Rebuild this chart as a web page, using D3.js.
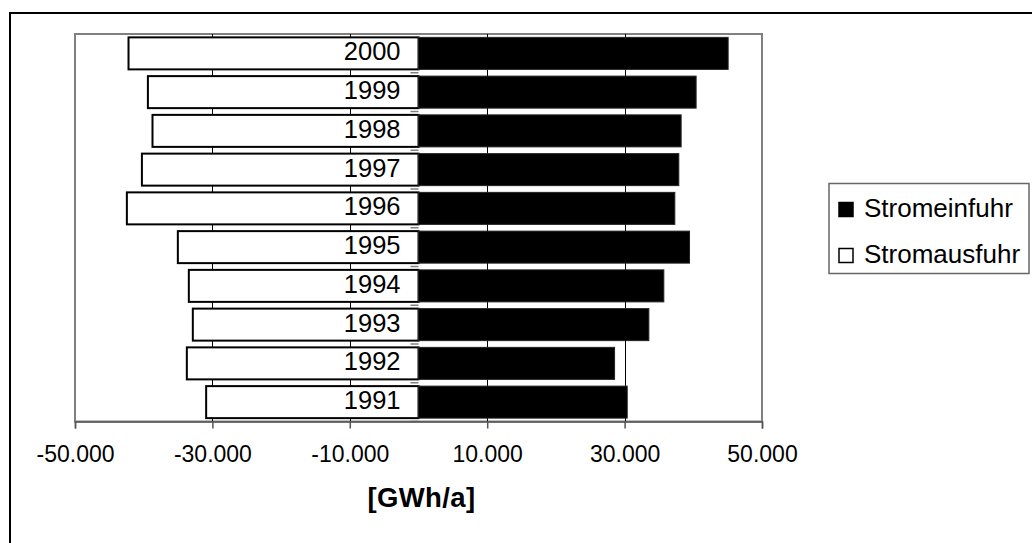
<!DOCTYPE html>
<html>
<head>
<meta charset="utf-8">
<script src="https://cdn.jsdelivr.net/npm/d3@7"></script>
<style>
  html, body { margin: 0; padding: 0; background: #fff; }
  svg { display: block; font-family: "Liberation Sans", Arial, sans-serif; }
</style>
</head>
<body>
<svg id="chart" width="1032" height="543"></svg>
<script>
// Electricity import / export per year, GWh/a
const years = ["2000", "1999", "1998", "1997", "1996", "1995", "1994", "1993", "1992", "1991"];
const stromeinfuhr = [45070, 40410, 38230, 37890, 37310, 39450, 35710, 33530, 28540, 30380];
const stromausfuhr = [-42210, -39390, -38720, -40260, -42450, -35030, -33430, -32850, -33720, -30910];
const xTicks = [-50000, -30000, -10000, 10000, 30000, 50000];
const gridTicks = [-30000, -10000, 10000, 30000];
const seriesNames = ["Stromeinfuhr", "Stromausfuhr"];

const svg = d3.select("#chart");
const plot = { left: 75, right: 762, top: 34, bottom: 421.5 };

// outer chart frame
svg.append("rect")
  .attr("x", 10).attr("y", 13)
  .attr("width", 1040).attr("height", 560)
  .attr("fill", "#fff").attr("stroke", "#000").attr("stroke-width", 2);

const x = d3.scaleLinear().domain([-50000, 50000]).range([plot.left, plot.right]);
const y = d3.scaleBand().domain(years).range([plot.top, plot.bottom])
  .paddingInner(0.174).paddingOuter(0.087);

// plot area
svg.append("rect")
  .attr("x", plot.left).attr("y", plot.top)
  .attr("width", plot.right - plot.left).attr("height", plot.bottom - plot.top)
  .attr("fill", "#fff").attr("stroke", "#808080").attr("stroke-width", 2);

// vertical gridlines
svg.append("g").selectAll("line").data(gridTicks).join("line")
  .attr("x1", d => Math.round(x(d)) + 0.5).attr("x2", d => Math.round(x(d)) + 0.5)
  .attr("y1", plot.top).attr("y2", plot.bottom)
  .attr("stroke", "#000").attr("stroke-width", 1);

// category ticks on the zero axis, pointing left
const step = y.step();
const catTicks = d3.range(years.length + 1).map(i => plot.top + i * step);
svg.append("g").selectAll("line").data(catTicks).join("line")
  .attr("x1", x(0) - 8).attr("x2", x(0))
  .attr("y1", d => d).attr("y2", d => d)
  .attr("stroke", "#808080").attr("stroke-width", 1.5);

// export bars (white, negative)
svg.append("g").selectAll("rect").data(years).join("rect")
  .attr("x", (d, i) => x(stromausfuhr[i]))
  .attr("y", d => y(d))
  .attr("width", (d, i) => x(0) - x(stromausfuhr[i]))
  .attr("height", y.bandwidth())
  .attr("fill", "#fff").attr("stroke", "#000").attr("stroke-width", 2);

// import bars (black, positive)
svg.append("g").selectAll("rect").data(years).join("rect")
  .attr("x", x(0))
  .attr("y", d => y(d))
  .attr("width", (d, i) => x(stromeinfuhr[i]) - x(0))
  .attr("height", y.bandwidth())
  .attr("fill", "#000").attr("stroke", "#222").attr("stroke-width", 1);

// year labels next to the zero axis
svg.append("g").selectAll("text").data(years).join("text")
  .attr("x", x(0) - 18)
  .attr("y", d => y(d) + y.bandwidth() / 2 + 7)
  .attr("text-anchor", "end")
  .attr("font-size", 25.5)
  .attr("fill", "#000")
  .text(d => d);

// value axis (German number format, plain hyphen for negatives)
const fmtDe = d3.formatLocale({ decimal: ",", thousands: ".", grouping: [3], currency: ["", ""], minus: "-" }).format(",d");
const xAxis = d3.axisBottom(x).tickValues(xTicks).tickSize(7).tickFormat(fmtDe);
const gx = svg.append("g").attr("transform", `translate(0,${plot.bottom})`).call(xAxis);
gx.select(".domain").attr("stroke", "#555").attr("stroke-width", 1.5);
gx.selectAll(".tick line").attr("stroke", "#555").attr("stroke-width", 1.5);
gx.selectAll(".tick text")
  .attr("font-family", "Liberation Sans, Arial, sans-serif")
  .attr("font-size", 23).attr("fill", "#000")
  .attr("dy", null).attr("y", 40);

// axis title
svg.append("text")
  .attr("x", (plot.left + plot.right) / 2 + 3).attr("y", 507)
  .attr("text-anchor", "middle")
  .attr("font-size", 27.5).attr("font-weight", "bold")
  .attr("letter-spacing", 0.4)
  .text("[GWh/a]");

// legend
const lg = svg.append("g");
lg.append("rect")
  .attr("x", 829).attr("y", 183.5).attr("width", 200).attr("height", 90)
  .attr("fill", "#fff").attr("stroke", "#666").attr("stroke-width", 1.5);
const fills = ["#000", "#fff"];
seriesNames.forEach((name, i) => {
  const base = 216.5 + i * 46;
  lg.append("rect")
    .attr("x", 839).attr("y", base - 14).attr("width", 14).attr("height", 14)
    .attr("fill", fills[i]).attr("stroke", "#000").attr("stroke-width", 1.5);
  lg.append("text")
    .attr("x", 864).attr("y", base)
    .attr("font-size", 26)
    .text(name);
});
</script>
</body>
</html>
